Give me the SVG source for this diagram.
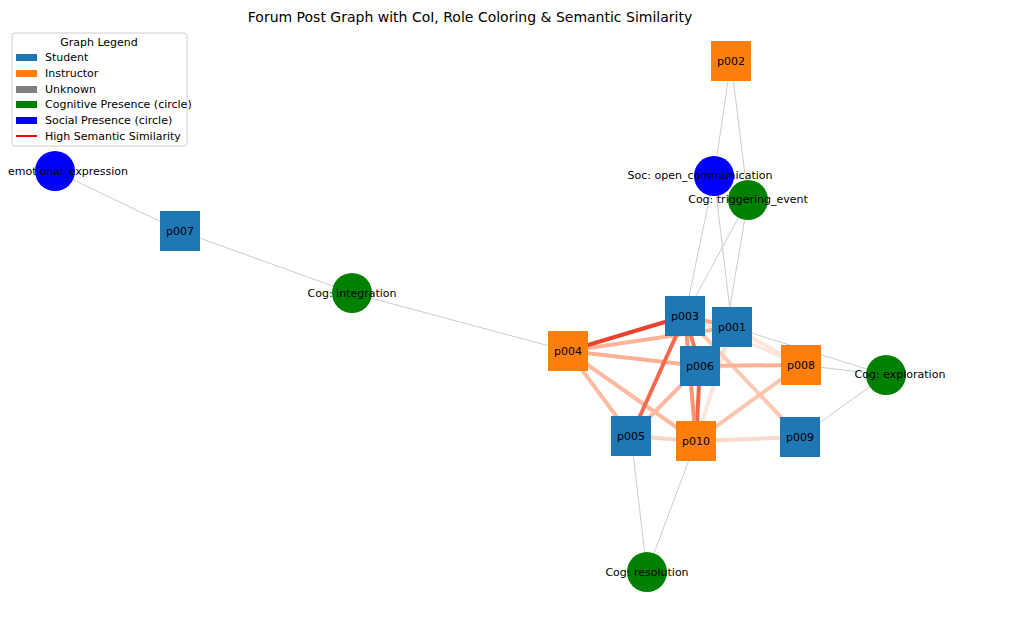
<svg xmlns="http://www.w3.org/2000/svg" width="1030" height="634" viewBox="0 0 1030 634">
<style>
text{font-family:"DejaVu Sans",sans-serif;font-size:11px;fill:#000}
.g{stroke:#cccccc;stroke-width:1;fill:none}
.s{fill:#1f77b4}.i{fill:#ff7f0e}.c{fill:#008000}.b{fill:#0000ff}
.e{fill:none;stroke-linecap:butt}
</style>
<rect width="1030" height="634" fill="#fff"/>
<text x="470" y="22" text-anchor="middle" style="font-size:14px">Forum Post Graph with CoI, Role Coloring &amp; Semantic Similarity</text>
<g id="connectors">
<line class="g" x1="55" y1="171" x2="180" y2="231"/>
<line class="g" x1="180" y1="231" x2="352" y2="293"/>
<line class="g" x1="352" y1="293" x2="568" y2="351"/>
<line class="g" x1="731" y1="61" x2="714" y2="176"/>
<line class="g" x1="731" y1="61" x2="748" y2="200"/>
<line class="g" x1="714" y1="176" x2="685" y2="316"/>
<line class="g" x1="714" y1="176" x2="732" y2="327"/>
<line class="g" x1="748" y1="200" x2="685" y2="316"/>
<line class="g" x1="748" y1="200" x2="720" y2="366"/>
<line class="g" x1="732" y1="327" x2="886" y2="375"/>
<line class="g" x1="801" y1="365" x2="886" y2="375"/>
<line class="g" x1="800" y1="437" x2="886" y2="375"/>
<line class="g" x1="631" y1="436" x2="647" y2="572"/>
<line class="g" x1="696" y1="441" x2="647" y2="572"/>
<g class="e">
<line x1="732" y1="327" x2="696" y2="441" stroke="#fee5d9" stroke-width="4"/>
<line x1="732" y1="327" x2="801" y2="365" stroke="#fee5d9" stroke-width="4"/>
<line x1="685" y1="316" x2="801" y2="365" stroke="#fee5d9" stroke-width="3"/>
<line x1="685" y1="316" x2="800" y2="437" stroke="#fcc9b4" stroke-width="4"/>
<line x1="696" y1="441" x2="800" y2="437" stroke="#fdd9cb" stroke-width="4"/>
<line x1="696" y1="441" x2="801" y2="365" stroke="#fcc5ad" stroke-width="4"/>
<line x1="700" y1="366" x2="801" y2="365" stroke="#fcb297" stroke-width="4"/>
<line x1="631" y1="436" x2="696" y2="441" stroke="#fdd4c2" stroke-width="4"/>
<line x1="631" y1="436" x2="700" y2="366" stroke="#fcbba1" stroke-width="4"/>
<line x1="568" y1="351" x2="631" y2="436" stroke="#fcbba1" stroke-width="4"/>
<line x1="568" y1="351" x2="696" y2="441" stroke="#fcbba1" stroke-width="4"/>
<line x1="568" y1="351" x2="700" y2="366" stroke="#fcb096" stroke-width="4"/>
<line x1="568" y1="351" x2="732" y2="327" stroke="#fcb59b" stroke-width="4"/>
<line x1="685" y1="316" x2="732" y2="327" stroke="#fcaf93" stroke-width="4"/>
<line x1="685" y1="316" x2="700" y2="366" stroke="#f7795b" stroke-width="4"/>
<line x1="700" y1="366" x2="696" y2="441" stroke="#f4664a" stroke-width="4"/>
<line x1="685" y1="316" x2="696" y2="441" stroke="#fc9474" stroke-width="4"/>
<line x1="685" y1="316" x2="631" y2="436" stroke="#f4694c" stroke-width="4"/>
<line x1="568" y1="351" x2="685" y2="316" stroke="#e9422e" stroke-width="4"/>
</g>
</g>
<g id="n-p002"><rect class="i" x="711" y="41" width="40" height="40"/><text x="731" y="65" text-anchor="middle">p002</text></g>
<g id="n-p007"><rect class="s" x="160" y="211" width="40" height="40"/><text x="180" y="235" text-anchor="middle">p007</text></g>
<g id="n-p004"><rect class="i" x="548" y="331" width="40" height="40"/><text x="568" y="355" text-anchor="middle">p004</text></g>
<g id="n-p003"><rect class="s" x="665" y="296" width="40" height="40"/><text x="685" y="320" text-anchor="middle">p003</text></g>
<g id="n-p001"><rect class="s" x="712" y="307" width="40" height="40"/><text x="732" y="331" text-anchor="middle">p001</text></g>
<g id="n-p006"><rect class="s" x="680" y="346" width="40" height="40"/><text x="700" y="370" text-anchor="middle">p006</text></g>
<g id="n-p008"><rect class="i" x="781" y="345" width="40" height="40"/><text x="801" y="369" text-anchor="middle">p008</text></g>
<g id="n-p005"><rect class="s" x="611" y="416" width="40" height="40"/><text x="631" y="440" text-anchor="middle">p005</text></g>
<g id="n-p010"><rect class="i" x="676" y="421" width="40" height="40"/><text x="696" y="445" text-anchor="middle">p010</text></g>
<g id="n-p009"><rect class="s" x="780" y="417" width="40" height="40"/><text x="800" y="441" text-anchor="middle">p009</text></g>
<g id="n-emo"><circle class="b" cx="55" cy="171" r="20"/><text x="68" y="175" text-anchor="middle">emotional_expression</text></g>
<g id="n-soc"><circle class="b" cx="714" cy="176" r="20"/><text x="700" y="179" text-anchor="middle">Soc: open_communication</text></g>
<g id="n-trig"><circle class="c" cx="748" cy="200" r="20"/><text x="748" y="203" text-anchor="middle">Cog: triggering_event</text></g>
<g id="n-int"><circle class="c" cx="352" cy="293" r="20"/><text x="352" y="297" text-anchor="middle">Cog: integration</text></g>
<g id="n-exp"><circle class="c" cx="886" cy="375" r="20"/><text x="900" y="378" text-anchor="middle">Cog: exploration</text></g>
<g id="n-res"><circle class="c" cx="647" cy="572" r="20"/><text x="647" y="576" text-anchor="middle">Cog: resolution</text></g>
<g id="legend">
<rect x="12" y="33" width="175" height="113" rx="3" fill="#fff" stroke="#ccc"/>
<text x="99" y="46" text-anchor="middle">Graph Legend</text>
<rect x="16" y="54" width="21" height="7" fill="#1f77b4"/><text x="45" y="61">Student</text>
<rect x="16" y="70" width="21" height="7" fill="#ff7f0e"/><text x="45" y="77">Instructor</text>
<rect x="16" y="86" width="21" height="7" fill="#808080"/><text x="45" y="93">Unknown</text>
<rect x="16" y="101" width="21" height="7" fill="#008000"/><text x="45" y="108">Cognitive Presence (circle)</text>
<rect x="16" y="117" width="21" height="7" fill="#0000ff"/><text x="45" y="124">Social Presence (circle)</text>
<line x1="16" y1="136" x2="37" y2="136" stroke="#ff0000" stroke-width="2"/><text x="45" y="140">High Semantic Similarity</text>
</g>
</svg>
